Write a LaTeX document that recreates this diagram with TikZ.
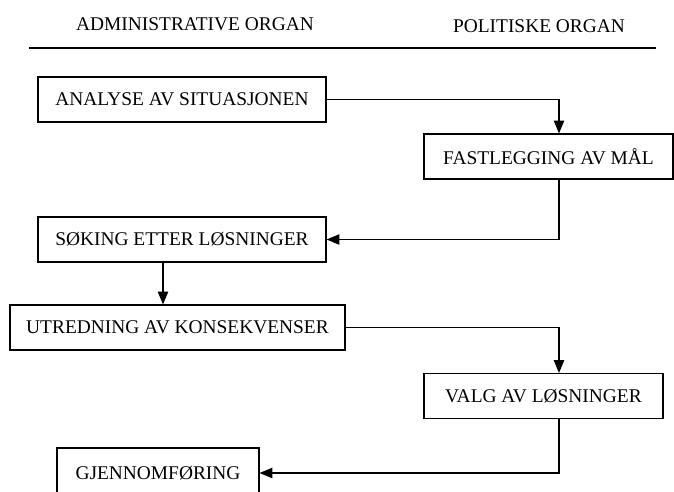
\documentclass[tikz,border=0pt]{standalone}
\usepackage{fontspec}
\setmainfont{Liberation Serif}
\usetikzlibrary{positioning, arrows.meta}

\begin{document}
\begin{tikzpicture}[
	x=0.025cm, y=-0.025cm,
	font=\fontsize{13.8}{16}\selectfont,
	% Define styles
	header/.style={inner sep=0pt},
	stage/.style={rectangle, draw=black, line width=0.8pt, minimum height=1.125cm, inner sep=0pt},
	arrow/.style={-{Triangle[length=3.2mm, width=2.6mm]}, line width=0.8pt}
	]
	\useasboundingbox (0,0) rectangle (674,491);
	
	% 1. Headings over the rule
	\node[header] (admin) at (195,24) {ADMINISTRATIVE ORGAN};
	\node[header] (polit) at (539,26) {POLITISKE ORGAN};
	\coordinate (ruleL) at (29,48);
	\coordinate (ruleR) at (656,48);
	\draw[line width=0.8pt] (ruleL) -- (ruleR);
	
	% 2. Stages
	\node[stage, minimum width=7.2cm] (analyse) at (182,99.5) {ANALYSE AV SITUASJONEN};
	\node[stage, minimum width=6.225cm] (maal) at (548.5,156.5) {FASTLEGGING AV MÅL};
	\node[stage, minimum width=7.2cm] (soking) at (182,239.5) {SØKING ETTER LØSNINGER};
	\node[stage, minimum width=8.375cm] (utredning) at (177.5,327.5) {UTREDNING AV KONSEKVENSER};
	\node[stage, minimum width=5.975cm] (valg) at (543.5,396) {VALG AV LØSNINGER};
	\node[stage, minimum width=5.05cm, minimum height=1.25cm] (gjennomforing) at (158,473) {GJENNOMFØRING};
	
	% Columns the connectors run down
	\coordinate (colR) at (559,0);
	\coordinate (colL) at (163,0);
	
	% 3. Flow between the two organs
	\draw[arrow] (analyse.east) -| (colR |- maal.north);
	\draw[arrow] (colR |- maal.south) |- (soking.east);
	\draw[arrow] (colL |- soking.south) -- (colL |- utredning.north);
	\draw[arrow] (utredning.east) -| (colR |- valg.north);
	\draw[arrow] (colR |- valg.south) |- (gjennomforing.east);
\end{tikzpicture}
\end{document}
